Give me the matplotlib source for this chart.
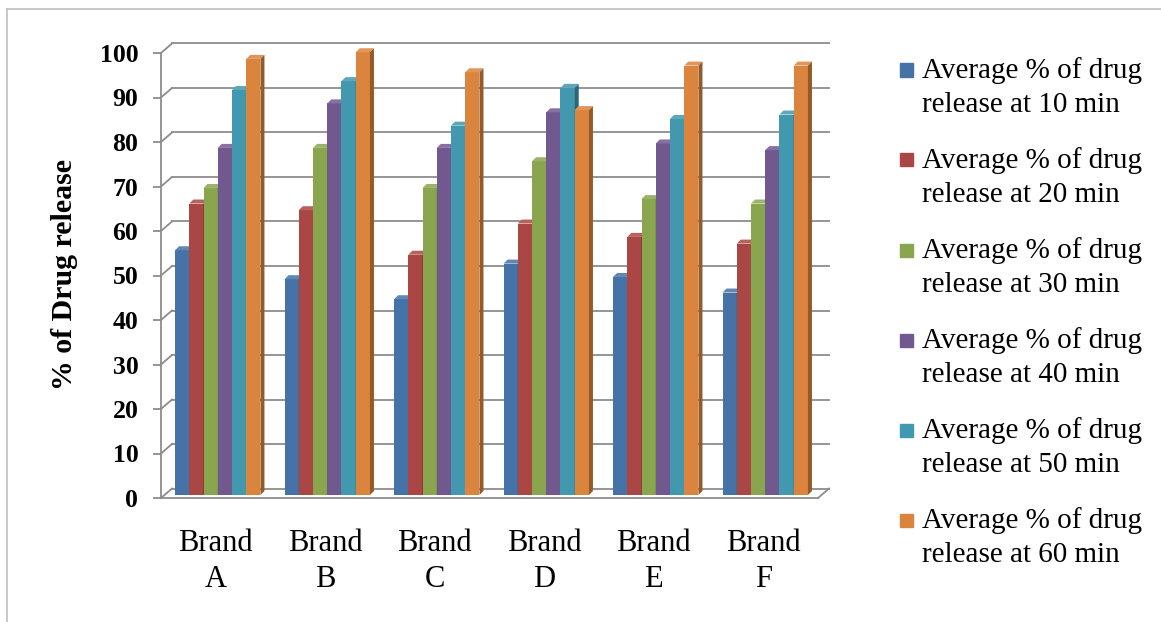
import numpy as np
import matplotlib
matplotlib.use("Agg")
import matplotlib.pyplot as plt
from matplotlib.patches import Polygon, Rectangle
from matplotlib.lines import Line2D
from matplotlib.colors import to_rgb

## data
brands = ["Brand\nA", "Brand\nB", "Brand\nC", "Brand\nD", "Brand\nE", "Brand\nF"]
series_labels = ["Average % of drug\nrelease at 10 min",
                 "Average % of drug\nrelease at 20 min",
                 "Average % of drug\nrelease at 30 min",
                 "Average % of drug\nrelease at 40 min",
                 "Average % of drug\nrelease at 50 min",
                 "Average % of drug\nrelease at 60 min"]
rel_10 = [55, 48.5, 44, 52, 49, 45.5]
rel_20 = [65.5, 64, 54, 61, 58, 56.5]
rel_30 = [69, 78, 69, 75, 66.5, 65.5]
rel_40 = [78, 88, 78, 86, 79, 77.5]
rel_50 = [91, 93, 83, 91.5, 84.5, 85.5]
rel_60 = [98, 99.5, 95, 86.5, 96.5, 96.5]
series = [rel_10, rel_20, rel_30, rel_40, rel_50, rel_60]
y_ticks = list(range(0, 101, 10))

colors = ["#4572A7", "#AA4643", "#89A54E", "#71588F", "#4198AF", "#DB843D"]
grid_col = "#8c8c8c"
serif = "Liberation Serif"

W, H = 1161, 622
fig = plt.figure(figsize=(W / 100, H / 100), dpi=100)
ax = fig.add_axes([161 / W, 1 - 498 / H, 657 / W, 445 / H])
ax.set_xlim(-0.5, len(brands) - 0.5)
ax.set_ylim(0, 100)

# pixels per data unit, used for the fake 3d depth
p0 = ax.transData.transform((0, 0))
p1 = ax.transData.transform((1, 1))
sx, sy = p1[0] - p0[0], p1[1] - p0[1]
wdx, wdy = 11 / sx, 9.5 / sy     # back wall offset
bdx, bdy = 2 / sx, 3 / sy        # bar front plane offset
ddx, ddy = 4 / sx, 4 / sy        # bar depth
x_lo, x_hi = ax.get_xlim()

# back wall grid + left wall connectors
for v in y_ticks:
    ax.plot([x_lo + wdx, x_hi + wdx], [v + wdy, v + wdy], color=grid_col,
            lw=1.3, clip_on=False, zorder=1)
    ax.plot([x_lo, x_lo + wdx], [v, v + wdy], color=grid_col, lw=1.3,
            clip_on=False, zorder=1)
ax.plot([x_hi, x_hi + wdx], [0, wdy], color=grid_col, lw=1.3, clip_on=False, zorder=1)

# bars
n = len(series)
bw = 0.13
xs = np.arange(len(brands))
for i, vals in enumerate(series):
    c = np.array(to_rgb(colors[i]))
    top_c = c + (1 - c) * 0.15
    side_c = c * 0.68
    z = 3 + i
    xpos = xs + (i - (n - 1) / 2) * bw + bdx
    ax.bar(xpos, vals, width=bw, bottom=bdy, color=colors[i], zorder=z,
           clip_on=False, linewidth=0)
    for xc, v in zip(xpos, vals):
        x0, x1 = xc - bw / 2, xc + bw / 2
        t = v + bdy
        ax.add_patch(Polygon([(x0, t), (x1, t), (x1 + ddx, t + ddy), (x0 + ddx, t + ddy)],
                             closed=True, fc=top_c, ec="none", zorder=z, clip_on=False))
        ax.add_patch(Polygon([(x1, bdy), (x1 + ddx, bdy + ddy), (x1 + ddx, t + ddy), (x1, t)],
                             closed=True, fc=side_c, ec="none", zorder=z, clip_on=False))

# axes styling
for s in ["top", "right"]:
    ax.spines[s].set_visible(False)
for s in ["left", "bottom"]:
    ax.spines[s].set_color(grid_col)
    ax.spines[s].set_linewidth(1.3)
    ax.spines[s].set_zorder(2)
ax.set_yticks(y_ticks)
ax.set_yticklabels([str(v) for v in y_ticks], fontsize=18.5, fontfamily=serif,
                   fontweight="bold")
ax.tick_params(axis="y", length=5.8, width=1.3, color=grid_col, pad=10.5)
ax.set_xticks(xs)
ax.set_xticklabels(brands, fontsize=22, fontfamily=serif, linespacing=1.32)
ax.tick_params(axis="x", length=0, pad=22)
ax.patch.set_visible(False)

fig.text(65 / W, 1 - 275 / H, "% of Drug release", rotation=90, ha="center",
         va="center", fontsize=21.5, fontweight="bold", fontfamily=serif)

# legend, drawn by hand so the swatch sits on the first line
for k, lab in enumerate(series_labels):
    yc = 70 + 90 * k
    fig.patches.append(Rectangle((900 / W, 1 - (yc + 6.5) / H), 13 / W, 13 / H,
                                 transform=fig.transFigure, color=colors[k]))
    fig.text(922 / W, 1 - (yc - 13) / H, lab, ha="left", va="top", fontsize=21,
             fontfamily=serif, linespacing=1.42)

# chart border
fig.add_artist(Line2D([7 / W, 1], [1 - 9 / H, 1 - 9 / H], transform=fig.transFigure,
                      color="#bfbfbf", lw=1.2))
fig.add_artist(Line2D([7 / W, 7 / W], [0, 1 - 9 / H], transform=fig.transFigure,
                      color="#bfbfbf", lw=1.2))

fig.savefig("out.png", dpi=100)
